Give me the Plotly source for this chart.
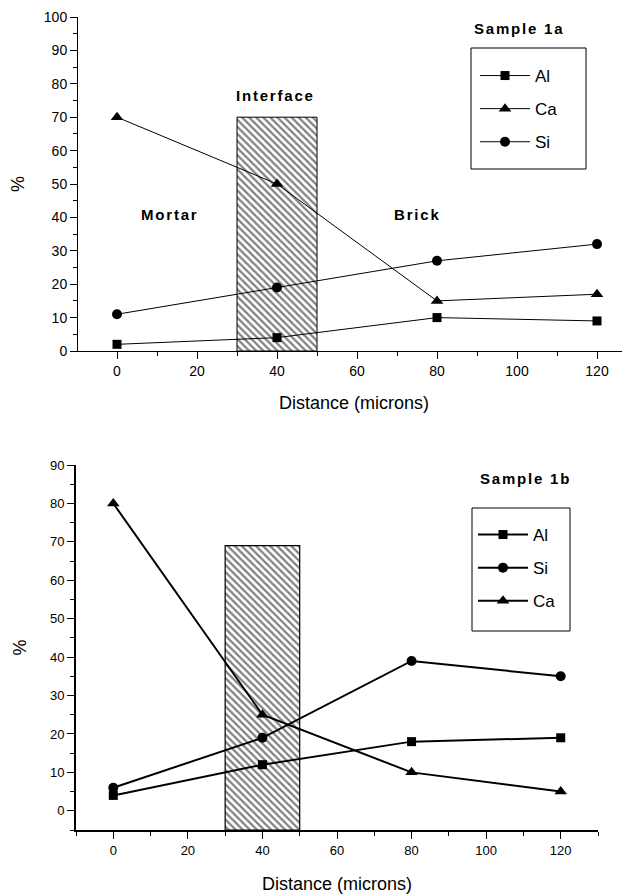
import plotly.graph_objects as go

# ---------------- data ----------------
distance = [0, 40, 80, 120]

# Sample 1a
a_al = [2, 4, 10, 9]
a_ca = [70, 50, 15, 17]
a_si = [11, 19, 27, 32]

# Sample 1b
b_al = [4, 12, 18, 19]
b_si = [6, 19, 39, 35]
b_ca = [80, 25, 10, 5]

# interface band (centre, width, base, top)
iface_center = [40]
iface_width = [20]
a_iface_base = [0]
a_iface_top = [70]
b_iface_base = [-5]
b_iface_top = [69]

# page body has an 8px default margin -> figure is 622x886 placed at (8,8)
OFF = 8
W, H = 630 - OFF, 894 - OFF


def px(x):
    return (x - OFF) / W


def py(y):
    return 1 - (y - OFF) / H


fig = go.Figure()

hatch = dict(shape="\\", fgcolor="black", bgcolor="white", size=5, solidity=0.45)

# interface bars
fig.add_trace(go.Bar(
    x=iface_center, y=[t - b for t, b in zip(a_iface_top, a_iface_base)],
    base=a_iface_base, width=iface_width,
    marker=dict(color="white", line=dict(color="black", width=1), pattern=hatch),
    xaxis="x", yaxis="y", showlegend=False, hoverinfo="skip"))
fig.add_trace(go.Bar(
    x=iface_center, y=[t - b for t, b in zip(b_iface_top, b_iface_base)],
    base=b_iface_base, width=iface_width,
    marker=dict(color="white", line=dict(color="black", width=1.2), pattern=hatch),
    xaxis="x2", yaxis="y2", showlegend=False, hoverinfo="skip"))


def series(x, y, name, symbol, xa, ya, leg, lw, ms, grp):
    return go.Scatter(
        x=x, y=y, name=name, mode="lines+markers",
        line=dict(color="black", width=lw),
        marker=dict(symbol=symbol, size=ms, color="black"),
        xaxis=xa, yaxis=ya, legend=leg, legendgroup=grp)


fig.add_trace(series(distance, a_al, "Al", "square", "x", "y", "legend", 1, 9, "a1"))
fig.add_trace(series(distance, a_ca, "Ca", "triangle-up", "x", "y", "legend", 1, 11, "a2"))
fig.add_trace(series(distance, a_si, "Si", "circle", "x", "y", "legend", 1, 10, "a3"))

fig.add_trace(series(distance, b_al, "Al", "square", "x2", "y2", "legend2", 2, 9, "b1"))
fig.add_trace(series(distance, b_si, "Si", "circle", "x2", "y2", "legend2", 2, 10, "b2"))
fig.add_trace(series(distance, b_ca, "Ca", "triangle-up", "x2", "y2", "legend2", 2, 11, "b3"))

FONT = "Liberation Sans, Arial, sans-serif"


def xax(domain, rng, anchor, lw, tfs, standoff):
    return dict(
        domain=domain, range=rng, anchor=anchor, automargin=False,
        showline=True, linecolor="black", linewidth=lw,
        ticks="outside", ticklen=7, tickwidth=1, tickcolor="black",
        tickvals=[0, 20, 40, 60, 80, 100, 120], ticklabeloverflow="allow",
        minor=dict(tickvals=[-10, 10, 30, 50, 70, 90, 110, 130], ticks="outside",
                   ticklen=4, tickcolor="black"),
        showgrid=False, zeroline=False,
        tickfont=dict(family=FONT, size=tfs, color="black"),
        title=dict(text="Distance (microns)", font=dict(family=FONT, size=18, color="black"),
                   standoff=standoff),
    )


def yax(domain, rng, anchor, lw, tvals, mvals, tfs):
    return dict(
        domain=domain, range=rng, anchor=anchor, automargin=False,
        showline=True, linecolor="black", linewidth=lw,
        ticks="outside", ticklen=7, tickwidth=1, tickcolor="black",
        tickvals=tvals, ticklabeloverflow="allow",
        minor=dict(tickvals=mvals, ticks="outside", ticklen=4, tickcolor="black"),
        showgrid=False, zeroline=False,
        tickfont=dict(family=FONT, size=tfs, color="black"),
        title=dict(text="%", font=dict(family=FONT, size=18, color="black"), standoff=19),
    )


leg_common = dict(xanchor="left", yanchor="top", borderwidth=0,
                  bgcolor="rgba(0,0,0,0)",
                  font=dict(family=FONT, size=17, color="black"), itemwidth=50,
                  tracegroupgap=8)

fig.update_layout(
    width=W, height=H,
    margin=dict(l=0, r=0, t=0, b=0, autoexpand=False),
    paper_bgcolor="white", plot_bgcolor="white",
    barmode="overlay",
    font=dict(family=FONT, color="black"),
    xaxis=xax([px(78), 1.0], [-9.75, 128.25], "y", 1, 14, 18),
    yaxis=yax([py(351), py(17)], [0, 100], "x", 1,
              list(range(0, 101, 10)), list(range(5, 100, 10)), 14),
    xaxis2=xax([px(76), px(598)], [-10, 130], "y2", 2, 13, 22),
    yaxis2=yax([py(830), py(465)], [-5, 90], "x2", 2,
               list(range(0, 91, 10)), list(range(-5, 90, 10)), 13),
    legend=dict(x=px(475), y=py(58), **leg_common),
    legend2=dict(x=px(473), y=py(517), **leg_common),
    showlegend=True,
    shapes=[
        dict(type="rect", xref="paper", yref="paper", layer="below",
             x0=px(471), x1=px(586), y0=py(169), y1=py(48),
             line=dict(color="black", width=1), fillcolor="white"),
        dict(type="rect", xref="paper", yref="paper", layer="below",
             x0=px(472), x1=px(570), y0=py(631), y1=py(508),
             line=dict(color="black", width=1), fillcolor="white"),
    ],
)

bold = dict(family=FONT, size=15, color="black", weight="bold")


def spaced(t, s=1.8):
    return '<span style="letter-spacing:%spx">%s</span>' % (s, t)


ann = [
    dict(x=39.5, y=76.5, xref="x", yref="y", text=spaced("Interface")),
    dict(x=13, y=41, xref="x", yref="y", text=spaced("Mortar")),
    dict(x=75, y=41, xref="x", yref="y", text=spaced("Brick")),
    dict(x=100.5, y=96.5, xref="x", yref="y", text=spaced("Sample 1a")),
    dict(x=110.5, y=86.5, xref="x2", yref="y2", text=spaced("Sample 1b")),
]
for a in ann:
    a.update(showarrow=False, font=bold, xanchor="center", yanchor="middle")
fig.update_layout(annotations=ann)

fig.write_html("out.html")
